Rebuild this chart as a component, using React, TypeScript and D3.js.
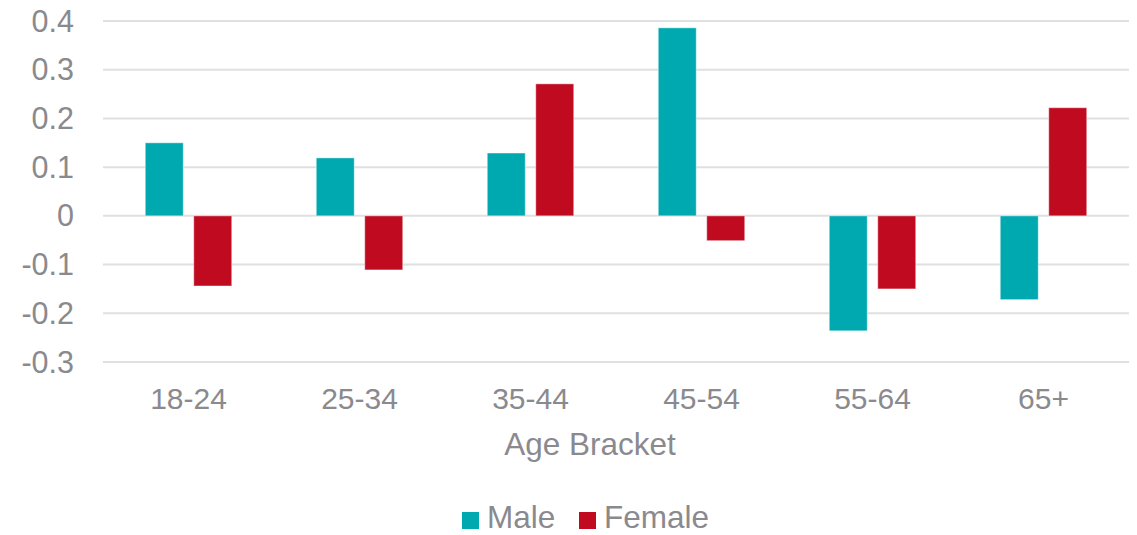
import React from "react";
import * as d3 from "d3";

const categories = ["18-24", "25-34", "35-44", "45-54", "55-64", "65+"];
const maleValues = [0.15, 0.119, 0.129, 0.386, -0.236, -0.172];
const femaleValues = [-0.144, -0.111, 0.271, -0.051, -0.15, 0.222];
const yTicks = [0.4, 0.3, 0.2, 0.1, 0, -0.1, -0.2, -0.3];
const seriesNames = ["Male", "Female"];
const seriesColors = ["#00A9B0", "#C00A20"];

const W = 1137;
const H = 535;
const FONT = "'Liberation Sans', Arial, sans-serif";
const TEXT = "#8A8A8E";

// plain hyphen for negatives, as in spreadsheet axes
const fmtTick = (t: number) => d3.format(".1~f")(t).replace("\u2212", "-");

export default function App() {
  const left = 103;
  const right = 1129;
  const y = d3.scaleLinear().domain([-0.3, 0.4]).range([362, 21]);
  const x = d3.scaleBand<string>().domain(categories).range([left, right]).paddingInner(0).paddingOuter(0);
  const barW = 38;
  const gap = 10.5;
  const groupW = barW * 2 + gap;

  const series = [maleValues, femaleValues];

  return (
    <svg width={W} height={H} style={{ position: "absolute", left: 0, top: 0 }} fontFamily={FONT}>
      <rect width={W} height={H} fill="#fff" />
      {yTicks.map((t) => (
        <g key={t}>
          <line x1={left} x2={right} y1={y(t)} y2={y(t)} stroke="#E0E0E0" strokeWidth={2} />
          <text x={74} y={y(t) + 10.5} textAnchor="end" fontSize={30.5} fill={TEXT}>
            {fmtTick(t)}
          </text>
        </g>
      ))}
      {categories.map((c, i) => {
        const cx = (x(c) ?? 0) + x.bandwidth() / 2;
        const start = cx - groupW / 2;
        return (
          <g key={c}>
            {series.map((vals, s) => {
              const v = vals[i];
              const y0 = y(0);
              const y1 = y(v);
              return (
                <rect
                  key={s}
                  x={start + s * (barW + gap)}
                  y={Math.min(y0, y1)}
                  width={barW}
                  height={Math.abs(y1 - y0)}
                  fill={seriesColors[s]}
                  stroke="#ffffff"
                  strokeOpacity={0.45}
                  strokeWidth={1}
                />
              );
            })}
            <text x={cx} y={408.5} textAnchor="middle" fontSize={30} fill={TEXT}>
              {c}
            </text>
          </g>
        );
      })}
      <text x={590} y={455} textAnchor="middle" fontSize={31.5} fill={TEXT}>
        Age Bracket
      </text>
      <g>
        <rect x={462} y={512} width={17} height={17} fill={seriesColors[0]} />
        <text x={487} y={528} fontSize={31.5} fill={TEXT}>
          {seriesNames[0]}
        </text>
        <rect x={579} y={512} width={17} height={17} fill={seriesColors[1]} />
        <text x={604} y={528} fontSize={31.5} fill={TEXT}>
          {seriesNames[1]}
        </text>
      </g>
    </svg>
  );
}
